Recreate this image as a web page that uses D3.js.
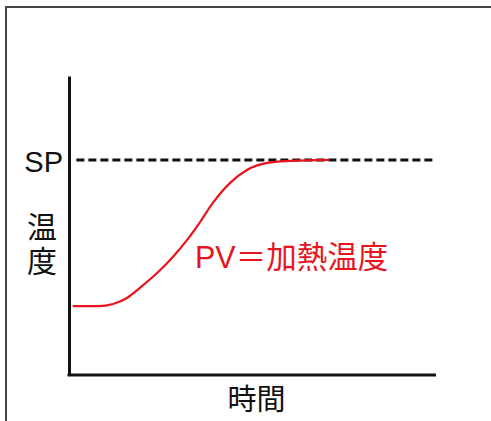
<!DOCTYPE html>
<html>
<head>
<meta charset="utf-8">
<script src="https://cdn.jsdelivr.net/npm/d3@7"></script>
<style>
  html, body { margin: 0; padding: 0; background: #fff; }
  svg { display: block; }
  text { font-family: "Liberation Sans", Arial, "Noto Sans CJK JP", sans-serif; }
</style>
</head>
<body>
<div class="canvas"></div>
<script>
// time (x) vs temperature (y), arbitrary units; SP = 100
const time = [1, 8, 12, 15.8, 19.3, 24, 28.3, 32.2, 35.7, 39.2, 43.9, 48.5, 54, 60.2, 71]
const pv = [32, 32, 33, 35.8, 40.5, 47.4, 54.9, 62.8, 71.1, 80, 89.3, 95.3, 98.6, 99.5, 100]
const setPoint = 100
const labels = {sp: 'SP', y: ['温', '度'], x: '時間', pv: 'PV＝加熱温度'}

const width = 491
const height = 421

const x = d3.scaleLinear().domain([0, 100]).range([69, 436])
const y = d3.scaleLinear().domain([0, 139]).range([375, 76])

const svg = d3.select('.canvas')
  .append('svg')
  .attr('width', width)
  .attr('height', height)

// outer frame of the picture
svg.append('path')
  .attr('d', `M6,${height} V7 H${width}`)
  .attr('fill', 'none')
  .attr('stroke', '#444')
  .attr('stroke-width', 2)

const xAxis = svg.append('g')
  .attr('transform', `translate(0, ${y(0)})`)
  .call(d3.axisBottom(x).ticks(0).tickSizeOuter(0))
const yAxis = svg.append('g')
  .attr('transform', `translate(${x(0)}, 0)`)
  .call(d3.axisLeft(y).ticks(0).tickSizeOuter(0))
svg.selectAll('.domain')
  .attr('stroke', '#111')
  .attr('stroke-width', 3)
xAxis.select('.domain').attr('d', `M${x(0) - 1.5},0H${x(100)}`)

// set point line
svg.append('line')
  .attr('x1', x(2))
  .attr('x2', x(100))
  .attr('y1', y(setPoint))
  .attr('y2', y(setPoint))
  .attr('stroke', '#111')
  .attr('stroke-width', 3)
  .attr('stroke-dasharray', '8 4')

// process value curve
const line = d3.line()
  .x((d, i) => x(time[i]))
  .y(d => y(d))
  .curve(d3.curveMonotoneX)
svg.append('path')
  .datum(pv)
  .attr('d', line)
  .attr('fill', 'none')
  .attr('stroke', '#e8141e')
  .attr('stroke-width', 2.2)

svg.append('text')
  .attr('x', 63)
  .attr('y', 172)
  .attr('text-anchor', 'end')
  .attr('font-size', 29)
  .attr('fill', '#111')
  .text(labels.sp)

svg.selectAll('.ylabel')
  .data(labels.y)
  .enter().append('text')
  .attr('class', 'ylabel')
  .attr('x', 42)
  .attr('y', (d, i) => 238 + i * 34)
  .attr('text-anchor', 'middle')
  .attr('font-size', 30)
  .attr('fill', '#111')
  .text(d => d)

svg.append('text')
  .attr('x', 256.5)
  .attr('y', 410)
  .attr('text-anchor', 'middle')
  .attr('font-size', 29)
  .attr('fill', '#111')
  .text(labels.x)

svg.append('text')
  .attr('x', 195)
  .attr('y', 268)
  .attr('font-size', 30.5)
  .attr('fill', '#e8141e')
  .text(labels.pv)
</script>
</body>
</html>
